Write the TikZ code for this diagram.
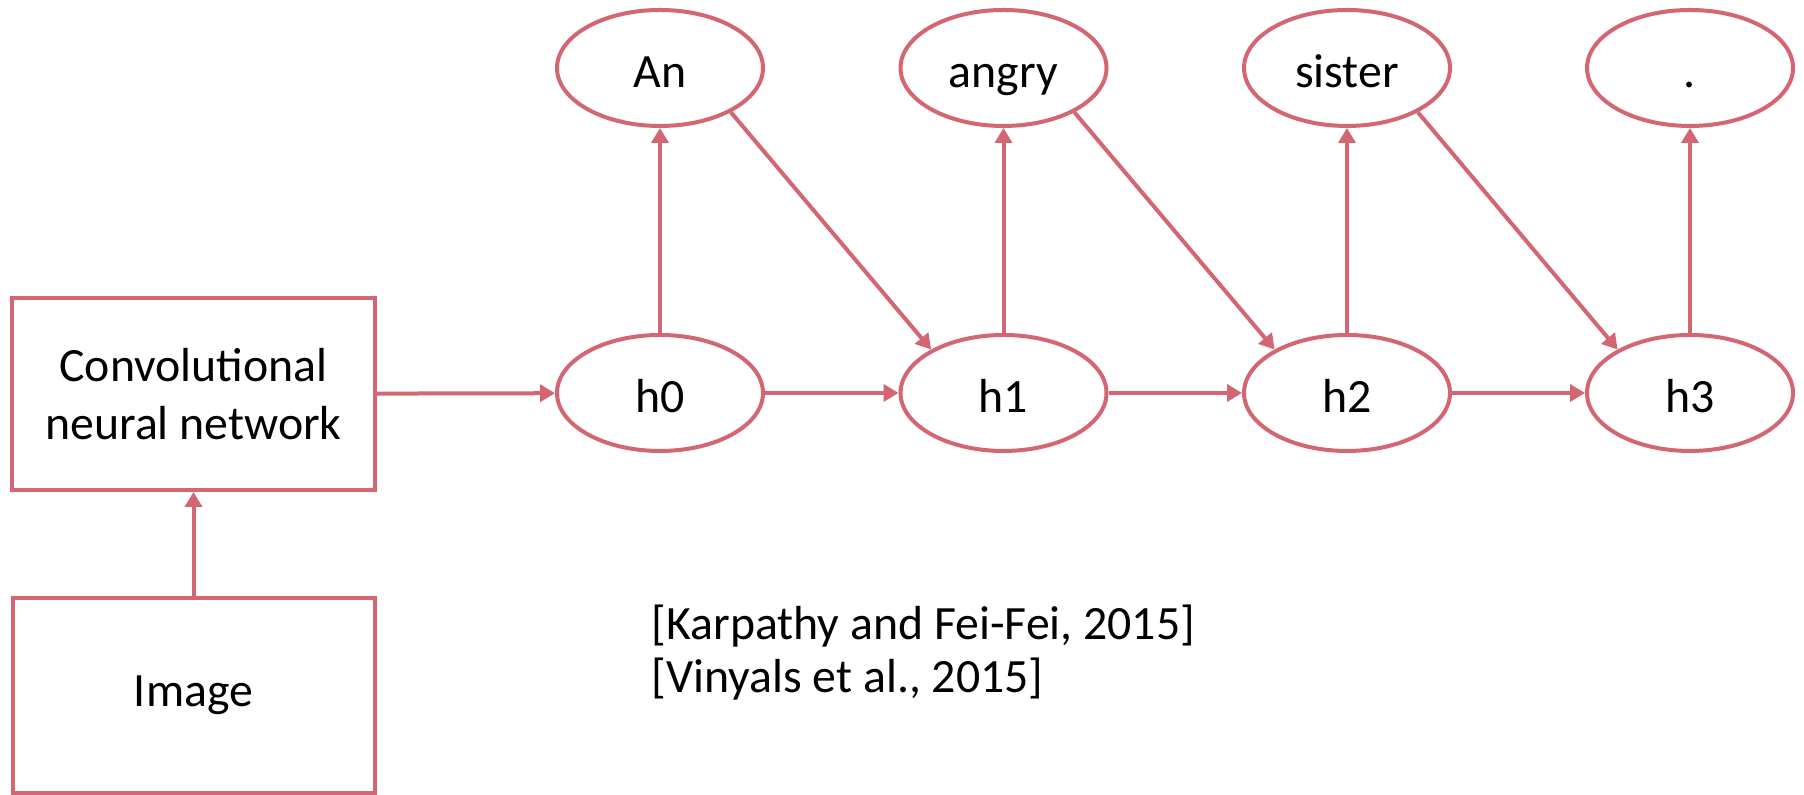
\documentclass[tikz,border=0pt]{standalone}
\usepackage{fontspec}
\setmainfont{Carlito}
\usetikzlibrary{shapes.geometric,arrows.meta}
\definecolor{rnnred}{RGB}{212,101,115}
\tikzset{
	box/.style={draw=rnnred, line width=0.4mm, rectangle, inner sep=0pt, align=center},
	ell/.style={draw=rnnred, line width=0.4mm, ellipse, minimum width=2.06cm,
		minimum height=1.16cm, inner sep=0pt, text height=11.3pt, text depth=0pt},
	arr/.style={draw=rnnred, line width=0.4mm, -{Triangle[length=1.5mm,width=1.7mm]}}
}
\begin{document}
\begin{tikzpicture}[font=\fontsize{13.6}{16.5}\selectfont]
		\useasboundingbox (0,0) rectangle (18.04,7.95);
		
		\node[box, minimum width=3.63cm, minimum height=1.92cm] (cnn) at (1.935,4.01)
			{Convolutional\\neural network};
		\node[box, minimum width=3.62cm, minimum height=1.95cm] (img) at (1.935,0.995)
			{Image};
		
		\node[ell] (h0) at (6.60,4.02) {h0};
		\node[ell] (h1) at (10.035,4.02) {h1};
		\node[ell] (h2) at (13.47,4.02) {h2};
		\node[ell] (h3) at (16.90,4.02) {h3};
		
		\node[ell] (w0) at (6.60,7.27) {An};
		\node[ell] (w1) at (10.035,7.27) {angry};
		\node[ell] (w2) at (13.47,7.27) {sister};
		\node[ell] (w3) at (16.90,7.27) {.};
		
		\node[anchor = base west, inner sep=0pt, align=left,
			font=\fontsize{13.6}{15.1}\selectfont] (cite) at (6.51,1.02)
			{[Karpathy and Fei-Fei, 2015]\\{}[Vinyals et al., 2015]};
		
		\draw[arr] (img) -- (cnn);
		\draw[arr] (cnn) -- (h0);
		
		\draw[arr] (h0) -- (h1);
		\draw[arr] (h1) -- (h2);
		\draw[arr] (h2) -- (h3);
		
		\draw[arr] (h0) -- (w0);
		\draw[arr] (h1) -- (w1);
		\draw[arr] (h2) -- (w2);
		\draw[arr] (h3) -- (w3);
		
		\draw[arr] (w0.-32) -- (h1.149);
		\draw[arr] (w1.-32) -- (h2.149);
		\draw[arr] (w2.-32) -- (h3.149);
	\end{tikzpicture}
\end{document}
